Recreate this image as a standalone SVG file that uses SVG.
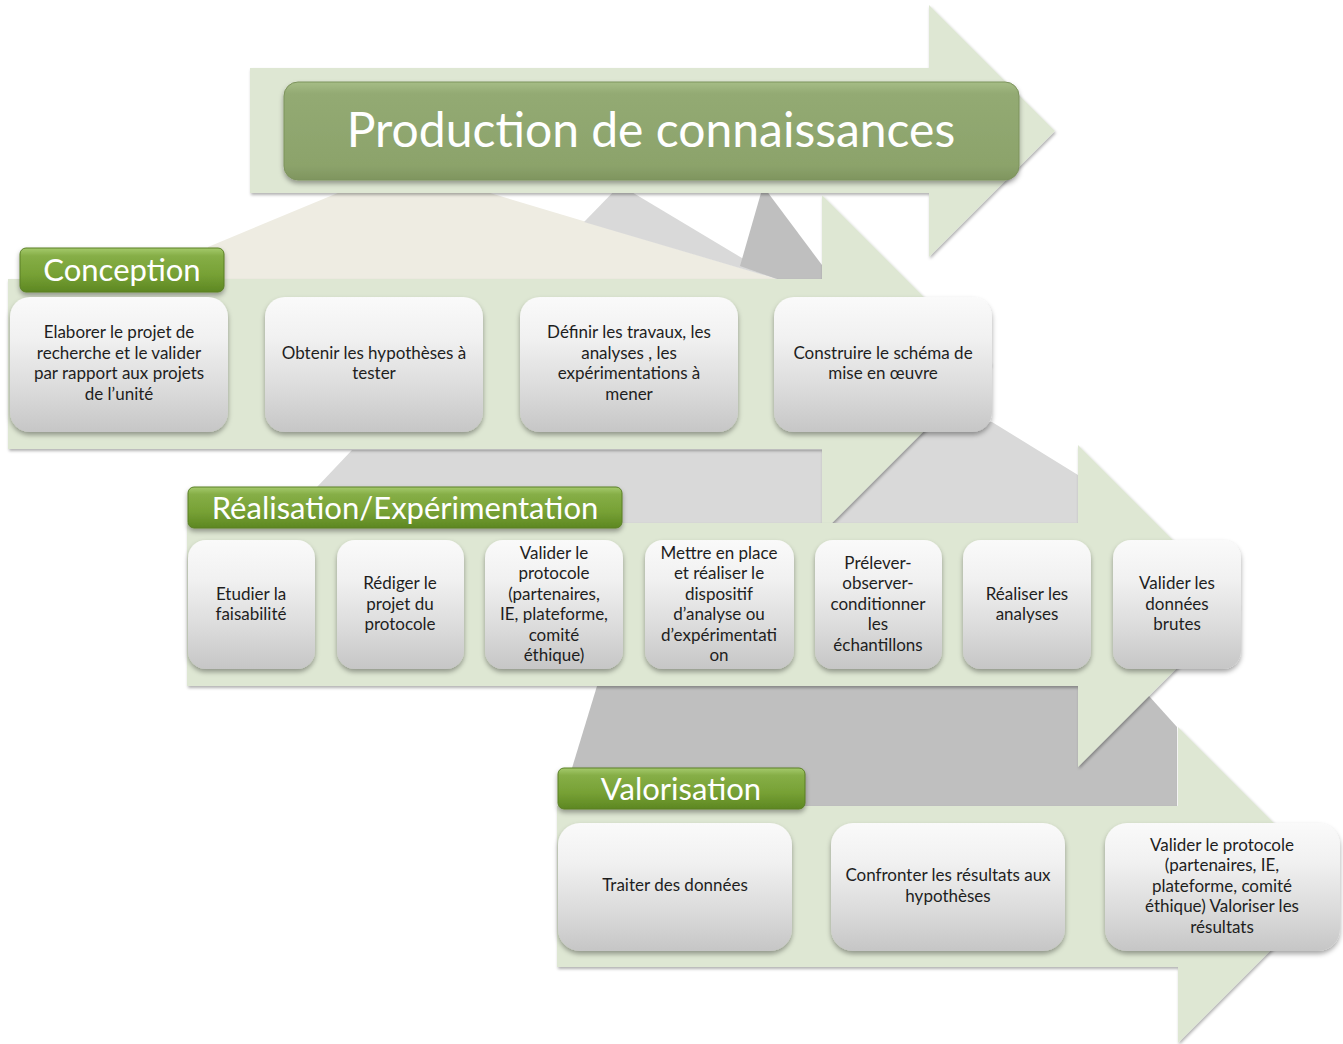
<svg xmlns="http://www.w3.org/2000/svg" width="1343" height="1044" viewBox="0 0 1343 1044">
<defs>
<linearGradient id="boxg" x1="0" y1="0" x2="0" y2="1">
<stop offset="0" stop-color="#fafafa"/>
<stop offset="0.3" stop-color="#f1f1f1"/>
<stop offset="0.7" stop-color="#dadada"/>
<stop offset="1" stop-color="#c6c6c6"/>
</linearGradient>
<linearGradient id="titleg" x1="0" y1="0" x2="0" y2="1">
<stop offset="0" stop-color="#a6bd86"/>
<stop offset="0.12" stop-color="#93aa73"/>
<stop offset="0.85" stop-color="#8ca36b"/>
<stop offset="1" stop-color="#7f955f"/>
</linearGradient>
<linearGradient id="tabg" x1="0" y1="0" x2="0" y2="1">
<stop offset="0" stop-color="#a5ca6c"/>
<stop offset="0.18" stop-color="#86ae47"/>
<stop offset="0.6" stop-color="#77a135"/>
<stop offset="1" stop-color="#5d8722"/>
</linearGradient>
<filter id="sh" x="-10%" y="-10%" width="120%" height="130%">
<feDropShadow dx="0" dy="3" stdDeviation="2.5" flood-color="#000" flood-opacity="0.35"/>
</filter>
<filter id="ash" x="-5%" y="-5%" width="110%" height="115%">
<feDropShadow dx="1" dy="2" stdDeviation="1.5" flood-color="#000" flood-opacity="0.3"/>
</filter>
</defs>
<style>
.arrow{fill:#dee7d3;filter:url(#ash);}
.lg{fill:#d9d9d9;}
.dg{fill:#bfbfbf;}
.beige{fill:#eeece2;}
.box{fill:url(#boxg);filter:url(#sh);}
.tab{fill:url(#tabg);stroke:#5a7f27;stroke-width:1;filter:url(#sh);}
.t{font-family:Lato,"Open Sans",sans-serif;font-size:17px;fill:#1e1e1e;text-anchor:middle;}
.tabt{font-family:Lato,"Open Sans",sans-serif;font-size:31px;fill:#fff;text-anchor:middle;}
.titlet{font-family:Lato,"Open Sans",sans-serif;font-size:48px;fill:#fff;text-anchor:middle;}
</style>

<g id="background">
<polygon class="beige" points="208,247 345,190 480,190 777,279 208,279"/>
<polygon class="lg" points="584,222 620,185 777,279"/>
<polygon class="dg" points="740,266 763,186 822,265 822,279 777,279"/>
<polygon class="arrow" points="250,68 929,68 929,5 1055,131 929,257 929,193 250,193"/>
<polygon class="lg" points="317,487 352,450 822,450 822,422 992,422 1078,475 1078,523 317,523"/>
<polygon class="arrow" points="8,279 822,279 822,195 991,364 822,533 822,449 8,449"/>
<polygon class="dg" points="572,768 597,686 1140,686 1177,727 1177,806 572,806"/>
<polygon class="arrow" points="187,523 1078,523 1078,445 1239,606 1078,767 1078,686 187,686"/>
<polygon class="arrow" points="557,806 1178,806 1178,727 1336,885 1178,1043 1178,967 557,967"/>
</g>

<g id="title">
<rect x="284" y="82" width="735" height="98" rx="14" fill="url(#titleg)" stroke="#7d935d" stroke-width="1" filter="url(#sh)"/>
<text class="titlet" x="651" y="147">Production de connaissances</text>
</g>

<g id="tab-conception">
<rect class="tab" x="20" y="248" width="204" height="44" rx="6"/>
<text class="tabt" x="122" y="281">Conception</text>
</g>
<g id="c1">
<rect class="box" x="10" y="297" width="218" height="135" rx="20"/>
<text class="t"><tspan x="119" y="338">Elaborer le projet de</tspan><tspan x="119" y="359">recherche et le valider</tspan><tspan x="119" y="379">par rapport aux projets</tspan><tspan x="119" y="400">de l’unité</tspan></text>
</g>
<g id="c2">
<rect class="box" x="265" y="297" width="218" height="135" rx="20"/>
<text class="t"><tspan x="374" y="359">Obtenir les hypothèses à</tspan><tspan x="374" y="379">tester</tspan></text>
</g>
<g id="c3">
<rect class="box" x="520" y="297" width="218" height="135" rx="20"/>
<text class="t"><tspan x="629" y="338">Définir les travaux, les</tspan><tspan x="629" y="359">analyses , les</tspan><tspan x="629" y="379">expérimentations à</tspan><tspan x="629" y="400">mener</tspan></text>
</g>
<g id="c4">
<rect class="box" x="774" y="297" width="218" height="135" rx="20"/>
<text class="t"><tspan x="883" y="359">Construire le schéma de</tspan><tspan x="883" y="379">mise en œuvre</tspan></text>
</g>

<g id="tab-realisation">
<rect class="tab" x="188" y="487" width="434" height="41" rx="6"/>
<text class="tabt" x="405" y="519" font-size="30">Réalisation/Expérimentation</text>
</g>
<g id="r1">
<rect class="box" x="188" y="540" width="127" height="129" rx="18"/>
<text class="t"><tspan x="251" y="600">Etudier la</tspan><tspan x="251" y="620">faisabilité</tspan></text>
</g>
<g id="r2">
<rect class="box" x="337" y="540" width="127" height="129" rx="18"/>
<text class="t"><tspan x="400" y="589">Rédiger le</tspan><tspan x="400" y="610">projet du</tspan><tspan x="400" y="630">protocole</tspan></text>
</g>
<g id="r3">
<rect class="box" x="485" y="540" width="138" height="129" rx="18"/>
<text class="t"><tspan x="554" y="559">Valider le</tspan><tspan x="554" y="579">protocole</tspan><tspan x="554" y="600">(partenaires,</tspan><tspan x="554" y="620">IE, plateforme,</tspan><tspan x="554" y="641">comité</tspan><tspan x="554" y="661">éthique)</tspan></text>
</g>
<g id="r4">
<rect class="box" x="645" y="540" width="149" height="129" rx="18"/>
<text class="t"><tspan x="719" y="559">Mettre en place</tspan><tspan x="719" y="579">et réaliser le</tspan><tspan x="719" y="600">dispositif</tspan><tspan x="719" y="620">d’analyse ou</tspan><tspan x="719" y="641">d’expérimentati</tspan><tspan x="719" y="661">on</tspan></text>
</g>
<g id="r5">
<rect class="box" x="815" y="540" width="127" height="129" rx="18"/>
<text class="t"><tspan x="878" y="569">Prélever-</tspan><tspan x="878" y="589">observer-</tspan><tspan x="878" y="610">conditionner</tspan><tspan x="878" y="630">les</tspan><tspan x="878" y="651">échantillons</tspan></text>
</g>
<g id="r6">
<rect class="box" x="963" y="540" width="128" height="129" rx="18"/>
<text class="t"><tspan x="1027" y="600">Réaliser les</tspan><tspan x="1027" y="620">analyses</tspan></text>
</g>
<g id="r7">
<rect class="box" x="1113" y="540" width="128" height="129" rx="18"/>
<text class="t"><tspan x="1177" y="589">Valider les</tspan><tspan x="1177" y="610">données</tspan><tspan x="1177" y="630">brutes</tspan></text>
</g>

<g id="tab-valorisation">
<rect class="tab" x="558" y="768" width="247" height="41" rx="6"/>
<text class="tabt" x="681" y="800" font-size="32">Valorisation</text>
</g>
<g id="v1">
<rect class="box" x="558" y="823" width="234" height="128" rx="22"/>
<text class="t"><tspan x="675" y="891">Traiter des données</tspan></text>
</g>
<g id="v2">
<rect class="box" x="831" y="823" width="234" height="128" rx="22"/>
<text class="t"><tspan x="948" y="881">Confronter les résultats aux</tspan><tspan x="948" y="902">hypothèses</tspan></text>
</g>
<g id="v3">
<rect class="box" x="1105" y="823" width="235" height="128" rx="22"/>
<text class="t"><tspan x="1222" y="851">Valider le protocole</tspan><tspan x="1222" y="871">(partenaires, IE,</tspan><tspan x="1222" y="892">plateforme, comité</tspan><tspan x="1222" y="912">éthique) Valoriser les</tspan><tspan x="1222" y="933">résultats</tspan></text>
</g>
<g id="connectors"></g>
</svg>
